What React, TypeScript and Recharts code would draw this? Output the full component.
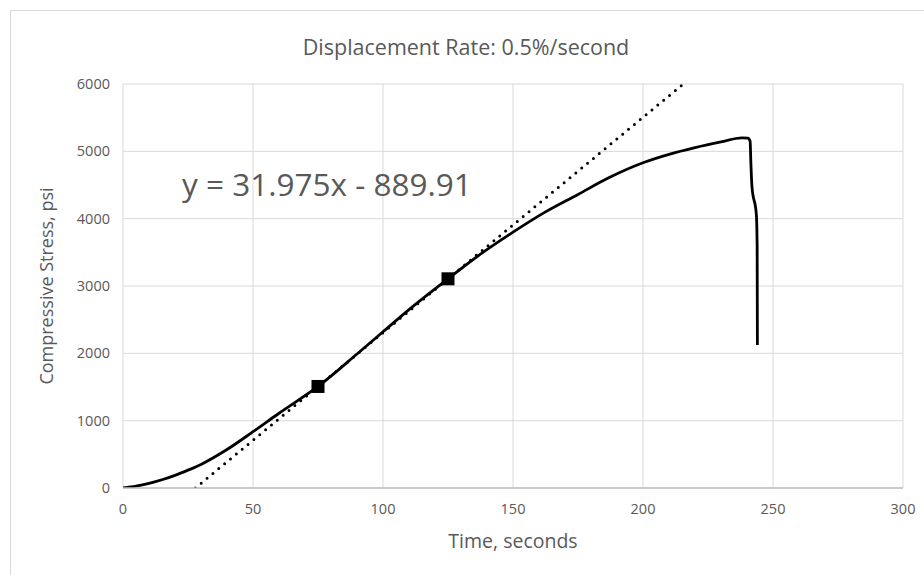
import React from "react";
import {
  ComposedChart,
  Line,
  Scatter,
  XAxis,
  YAxis,
  CartesianGrid,
} from "recharts";

// Measured curve: time (s) vs compressive stress (psi)
const timeValues = [
  0, 5, 10, 15, 20, 25, 30, 40, 50, 60, 75, 90, 100, 110, 125, 137, 150, 162,
  175, 187, 200, 210, 220, 230, 238, 240.3, 241.2, 241.5, 241.9, 243.6, 243.9,
  244.0,
];
const stressValues = [
  0, 28, 69, 122, 187, 265, 350, 571, 836, 1110, 1508, 1990, 2320, 2650, 3107,
  3460, 3800, 4090, 4360, 4610, 4830, 4955, 5055, 5140, 5200, 5195, 5150, 4820,
  4480, 4060, 3600, 2124,
];

// Two marked points used for the linear fit
const markerTimes = [75, 125];
const markerStress = [1508, 3107];

// Trendline y = 31.975x - 889.91, drawn between the axis limits
const trendSlope = 31.975;
const trendIntercept = -889.91;
const trendStress = [0, 6000];

const xTicks = [0, 50, 100, 150, 200, 250, 300];
const yTicks = [0, 1000, 2000, 3000, 4000, 5000, 6000];

const titleText = "Displacement Rate: 0.5%/second";
const equationText = "y = 31.975x - 889.91";
const xAxisTitle = "Time, seconds";
const yAxisTitle = "Compressive Stress, psi";

const curveData = timeValues.map((t, i) => ({ x: t, y: stressValues[i] }));
const markerData = markerTimes.map((t, i) => ({ x: t, y: markerStress[i] }));
const trendData = trendStress.map((s) => ({
  x: (s - trendIntercept) / trendSlope,
  y: s,
}));

const FONT = "'Open Sans', 'Liberation Sans', sans-serif";
const TEXT_COLOR = "#595959";

const XTick = (props: any) => {
  const { x, y, payload } = props;
  return (
    <text
      x={x}
      y={y + 18}
      textAnchor="middle"
      fontFamily={FONT}
      fontSize={14.5}
      fill={TEXT_COLOR}
    >
      {payload.value}
    </text>
  );
};

const YTick = (props: any) => {
  const { y, payload } = props;
  return (
    <text
      x={110}
      y={y + 5}
      textAnchor="end"
      fontFamily={FONT}
      fontSize={14.5}
      fill={TEXT_COLOR}
    >
      {payload.value}
    </text>
  );
};

const SquareMarker = (props: any) => {
  const { cx, cy } = props;
  return <rect x={cx - 6.5} y={cy - 6.5} width={13} height={13} fill="#000" />;
};

export default function App() {
  return (
    <div
      style={{
        position: "absolute",
        left: 0,
        top: 0,
        width: 924,
        height: 575,
        background: "#fff",
        overflow: "hidden",
      }}
    >
      <div
        style={{
          position: "absolute",
          left: 10,
          top: 10,
          width: 930,
          height: 580,
          borderTop: "1px solid #d9d9d9",
          borderLeft: "1px solid #d9d9d9",
        }}
      />
      <ComposedChart
        width={924}
        height={575}
        margin={{ top: 84, right: 21, bottom: 0, left: 0 }}
        style={{ position: "absolute", left: 0, top: 0 }}
      >
        <CartesianGrid stroke="#d9d9d9" strokeWidth={1} />
        <XAxis
          type="number"
          dataKey="x"
          domain={[0, 300]}
          ticks={xTicks}
          allowDataOverflow
          height={87}
          tickLine={false}
          axisLine={{ stroke: "#bfbfbf", strokeWidth: 1.5 }}
          tick={<XTick />}
        />
        <YAxis
          type="number"
          dataKey="y"
          domain={[0, 6000]}
          ticks={yTicks}
          allowDataOverflow
          width={123}
          tickLine={false}
          axisLine={false}
          tick={<YTick />}
        />
        <Line
          data={trendData}
          dataKey="y"
          type="linear"
          stroke="#000"
          strokeWidth={3}
          strokeDasharray="0 7.6"
          strokeLinecap="round"
          dot={false}
          activeDot={false}
          isAnimationActive={false}
        />
        <Line
          data={curveData}
          dataKey="y"
          type="monotone"
          stroke="#000"
          strokeWidth={2.8}
          strokeLinejoin="round"
          dot={false}
          activeDot={false}
          isAnimationActive={false}
        />
        <Scatter
          data={markerData}
          dataKey="y"
          shape={<SquareMarker />}
          isAnimationActive={false}
        />
      </ComposedChart>
      <div
        style={{
          position: "absolute",
          left: 0,
          width: 932,
          top: 33,
          textAlign: "center",
          fontFamily: FONT,
          fontSize: 21.5,
          color: TEXT_COLOR,
          lineHeight: "28px",
          whiteSpace: "nowrap",
        }}
      >
        {titleText}
      </div>
      <div
        style={{
          position: "absolute",
          left: 182,
          top: 162,
          fontFamily: FONT,
          fontSize: 31.5,
          color: TEXT_COLOR,
          lineHeight: "44px",
          whiteSpace: "nowrap",
        }}
      >
        {equationText}
      </div>
      <div
        style={{
          position: "absolute",
          left: 313,
          width: 400,
          top: 528,
          textAlign: "center",
          fontFamily: FONT,
          fontSize: 19.5,
          color: TEXT_COLOR,
          lineHeight: "26px",
          whiteSpace: "nowrap",
        }}
      >
        {xAxisTitle}
      </div>
      <div
        style={{
          position: "absolute",
          left: 46 - 150,
          top: 286 - 13,
          width: 300,
          textAlign: "center",
          fontFamily: FONT,
          fontSize: 18,
          color: TEXT_COLOR,
          lineHeight: "26px",
          whiteSpace: "nowrap",
          transform: "rotate(-90deg)",
        }}
      >
        {yAxisTitle}
      </div>
    </div>
  );
}
